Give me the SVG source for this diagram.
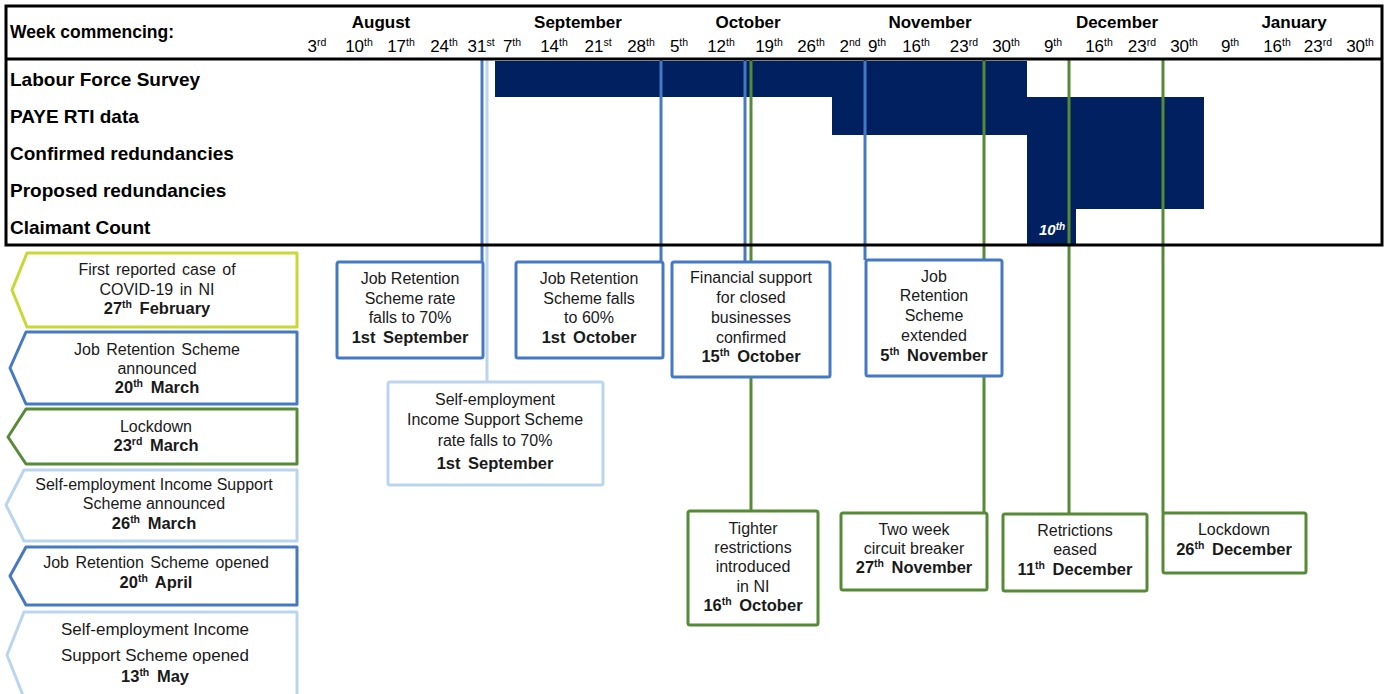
<svg xmlns="http://www.w3.org/2000/svg" width="1386" height="694" viewBox="0 0 1386 694">
<style>
text{font-family:"Liberation Sans",Arial,sans-serif;fill:#1a1a1a}
.hd{font-size:17.5px;font-weight:bold;fill:#000}
.mo{font-size:17px;font-weight:bold;text-anchor:middle;fill:#000}
.wk{font-size:17px;text-anchor:middle;fill:#000}
.rl{font-size:19px;font-weight:bold;fill:#000}
.t{font-size:16px;text-anchor:middle}
.b{font-weight:bold;font-size:16.5px;word-spacing:3px}
.s{font-size:10.5px}
.bar{fill:#002060}
.box{fill:#fff;stroke-width:3;stroke-linejoin:round}
.lbox{fill:#fff;stroke-width:3;stroke-linejoin:round}
.blue{stroke:#4579C4}
.lblue{stroke:#BBD5EE}
.green{stroke:#568A37}
.lime{stroke:#C8D834}
.ln{stroke-width:3;fill:none}
</style>

<g id="bars">
<rect class="bar" x="495" y="61" width="532" height="36"/>
<rect class="bar" x="832" y="97" width="372" height="38"/>
<rect class="bar" x="1027" y="135" width="177" height="74"/>
<rect class="bar" x="1027" y="209" width="49" height="36"/>
<text x="1039" y="235" style="font-size:15px;font-weight:bold;font-style:italic;fill:#fff">10<tspan class="s" baseline-shift="super" style="font-size:10px">th</tspan></text>
</g>

<g id="header">
<text class="hd" x="10" y="38">Week commencing:</text>
<text class="mo" x="381" y="28">August</text>
<text class="mo" x="578" y="28">September</text>
<text class="mo" x="748" y="28">October</text>
<text class="mo" x="930" y="28">November</text>
<text class="mo" x="1117" y="28">December</text>
<text class="mo" x="1294" y="28">January</text>
<text class="wk" x="317" y="52">3<tspan class="s" baseline-shift="super">rd</tspan></text>
<text class="wk" x="359" y="52">10<tspan class="s" baseline-shift="super">th</tspan></text>
<text class="wk" x="401" y="52">17<tspan class="s" baseline-shift="super">th</tspan></text>
<text class="wk" x="444" y="52">24<tspan class="s" baseline-shift="super">th</tspan></text>
<text class="wk" x="481" y="52">31<tspan class="s" baseline-shift="super">st</tspan></text>
<text class="wk" x="512" y="52">7<tspan class="s" baseline-shift="super">th</tspan></text>
<text class="wk" x="554" y="52">14<tspan class="s" baseline-shift="super">th</tspan></text>
<text class="wk" x="598" y="52">21<tspan class="s" baseline-shift="super">st</tspan></text>
<text class="wk" x="641" y="52">28<tspan class="s" baseline-shift="super">th</tspan></text>
<text class="wk" x="679" y="52">5<tspan class="s" baseline-shift="super">th</tspan></text>
<text class="wk" x="721" y="52">12<tspan class="s" baseline-shift="super">th</tspan></text>
<text class="wk" x="769" y="52">19<tspan class="s" baseline-shift="super">th</tspan></text>
<text class="wk" x="811" y="52">26<tspan class="s" baseline-shift="super">th</tspan></text>
<text class="wk" x="850" y="52">2<tspan class="s" baseline-shift="super">nd</tspan></text>
<text class="wk" x="877" y="52">9<tspan class="s" baseline-shift="super">th</tspan></text>
<text class="wk" x="916" y="52">16<tspan class="s" baseline-shift="super">th</tspan></text>
<text class="wk" x="964" y="52">23<tspan class="s" baseline-shift="super">rd</tspan></text>
<text class="wk" x="1006" y="52">30<tspan class="s" baseline-shift="super">th</tspan></text>
<text class="wk" x="1053" y="52">9<tspan class="s" baseline-shift="super">th</tspan></text>
<text class="wk" x="1099" y="52">16<tspan class="s" baseline-shift="super">th</tspan></text>
<text class="wk" x="1142" y="52">23<tspan class="s" baseline-shift="super">rd</tspan></text>
<text class="wk" x="1184" y="52">30<tspan class="s" baseline-shift="super">th</tspan></text>
<text class="wk" x="1230" y="52">9<tspan class="s" baseline-shift="super">th</tspan></text>
<text class="wk" x="1277" y="52">16<tspan class="s" baseline-shift="super">th</tspan></text>
<text class="wk" x="1318" y="52">23<tspan class="s" baseline-shift="super">rd</tspan></text>
<text class="wk" x="1360" y="52">30<tspan class="s" baseline-shift="super">th</tspan></text>
</g>

<g id="rows">
<text class="rl" x="10" y="86">Labour Force Survey</text>
<text class="rl" x="10" y="123">PAYE RTI data</text>
<text class="rl" x="10" y="160">Confirmed redundancies</text>
<text class="rl" x="10" y="197">Proposed redundancies</text>
<text class="rl" x="10" y="234">Claimant Count</text>
</g>

<g id="connectors">
<line class="ln blue" x1="482" y1="60" x2="482" y2="262"/>
<line class="ln lblue" x1="487" y1="60" x2="487" y2="382"/>
<line class="ln blue" x1="661" y1="60" x2="661" y2="262"/>
<line class="ln blue" x1="745" y1="60" x2="745" y2="262"/>
<line class="ln green" x1="751" y1="60" x2="751" y2="511"/>
<line class="ln blue" x1="865" y1="60" x2="865" y2="260"/>
<line class="ln green" x1="984" y1="60" x2="984" y2="513"/>
<line class="ln green" x1="1069" y1="60" x2="1069" y2="514"/>
<line class="ln green" x1="1163" y1="60" x2="1163" y2="513"/>
</g>

<g id="table-frame" fill="none" stroke="#000" stroke-width="3">
<rect x="6" y="6" width="1376" height="239"/>
<line x1="6" y1="59" x2="1382" y2="59"/>
</g>

<g id="node-jrs70">
<rect class="box blue" x="337" y="262" width="146" height="96" rx="2"/>
<text class="t" x="410" y="284">Job Retention</text>
<text class="t" x="410" y="304">Scheme rate</text>
<text class="t" x="410" y="323">falls to 70%</text>
<text class="t b" x="410" y="343">1st September</text>
</g>

<g id="node-jrs60">
<rect class="box blue" x="516" y="262" width="147" height="96" rx="2"/>
<text class="t" x="589" y="284">Job Retention</text>
<text class="t" x="589" y="304">Scheme falls</text>
<text class="t" x="589" y="323">to 60%</text>
<text class="t b" x="589" y="343">1st October</text>
</g>

<g id="node-financial">
<rect class="box blue" x="672" y="262" width="158" height="115" rx="2"/>
<text class="t" x="751" y="283">Financial support</text>
<text class="t" x="751" y="303">for closed</text>
<text class="t" x="751" y="323">businesses</text>
<text class="t" x="751" y="343">confirmed</text>
<text class="t b" x="751" y="362">15<tspan class="s" baseline-shift="super">th</tspan> October</text>
</g>

<g id="node-seiss70">
<rect class="box lblue" x="388" y="382" width="215" height="103" rx="2"/>
<text class="t" x="495" y="405">Self-employment</text>
<text class="t" x="495" y="425">Income Support Scheme</text>
<text class="t" x="495" y="446">rate falls to 70%</text>
<text class="t b" x="495" y="469">1st September</text>
</g>

<g id="node-jrs-extended">
<rect class="box blue" x="866" y="260" width="136" height="116" rx="2"/>
<text class="t" x="934" y="282">Job</text>
<text class="t" x="934" y="301">Retention</text>
<text class="t" x="934" y="321">Scheme</text>
<text class="t" x="934" y="341">extended</text>
<text class="t b" x="934" y="361">5<tspan class="s" baseline-shift="super">th</tspan> November</text>
</g>

<g id="node-tighter">
<rect class="box green" x="688" y="511" width="130" height="114" rx="2"/>
<text class="t" x="753" y="534">Tighter</text>
<text class="t" x="753" y="553">restrictions</text>
<text class="t" x="753" y="572">introduced</text>
<text class="t" x="753" y="592">in NI</text>
<text class="t b" x="753" y="611">16<tspan class="s" baseline-shift="super">th</tspan> October</text>
</g>

<g id="node-circuit">
<rect class="box green" x="841" y="513" width="146" height="77" rx="2"/>
<text class="t" x="914" y="535">Two week</text>
<text class="t" x="914" y="554">circuit breaker</text>
<text class="t b" x="914" y="573">27<tspan class="s" baseline-shift="super">th</tspan> November</text>
</g>

<g id="node-eased">
<rect class="box green" x="1003" y="514" width="144" height="77" rx="2"/>
<text class="t" x="1075" y="536">Retrictions</text>
<text class="t" x="1075" y="555">eased</text>
<text class="t b" x="1075" y="575">11<tspan class="s" baseline-shift="super">th</tspan> December</text>
</g>

<g id="node-lockdown-dec">
<rect class="box green" x="1163" y="513" width="143" height="60" rx="2"/>
<text class="t" x="1234" y="535">Lockdown</text>
<text class="t b" x="1234" y="555">26<tspan class="s" baseline-shift="super">th</tspan> December</text>
</g>

<g id="node-first-case">
<polygon class="lbox lime" points="27,253 297,253 297,327 27,327 12,290"/>
<text class="t" x="157" y="275" word-spacing="2">First reported case of</text>
<text class="t" x="157" y="295" word-spacing="2">COVID-19 in NI</text>
<text class="t b" x="157" y="314">27<tspan class="s" baseline-shift="super">th</tspan> February</text>
</g>

<g id="node-jrs-announced">
<polygon class="lbox blue" points="26,332 297,332 297,404 26,404 10,368"/>
<text class="t" x="157" y="355" word-spacing="2">Job Retention Scheme</text>
<text class="t" x="157" y="374">announced</text>
<text class="t b" x="157" y="393">20<tspan class="s" baseline-shift="super">th</tspan> March</text>
</g>

<g id="node-lockdown-mar">
<polygon class="lbox green" points="26,409 297,409 297,464 26,464 8,437"/>
<text class="t" x="156" y="432">Lockdown</text>
<text class="t b" x="156" y="451">23<tspan class="s" baseline-shift="super">rd</tspan> March</text>
</g>

<g id="node-seiss-announced">
<polygon class="lbox lblue" points="24,470 297,470 297,541 24,541 6,505"/>
<text class="t" x="154" y="490">Self-employment Income Support</text>
<text class="t" x="154" y="509">Scheme announced</text>
<text class="t b" x="154" y="529">26<tspan class="s" baseline-shift="super">th</tspan> March</text>
</g>

<g id="node-jrs-opened">
<polygon class="lbox blue" points="26,547 297,547 297,605 26,605 10,576"/>
<text class="t" x="156" y="568" word-spacing="2">Job Retention Scheme opened</text>
<text class="t b" x="156" y="588">20<tspan class="s" baseline-shift="super">th</tspan> April</text>
</g>

<g id="node-seiss-opened">
<polygon class="lbox lblue" points="24,612 297,612 297,698 24,698 7,655"/>
<text class="t" x="155" y="635" style="font-size:17px">Self-employment Income</text>
<text class="t" x="155" y="661" style="font-size:17px">Support Scheme opened</text>
<text class="t b" x="155" y="682">13<tspan class="s" baseline-shift="super">th</tspan> May</text>
</g>
</svg>
